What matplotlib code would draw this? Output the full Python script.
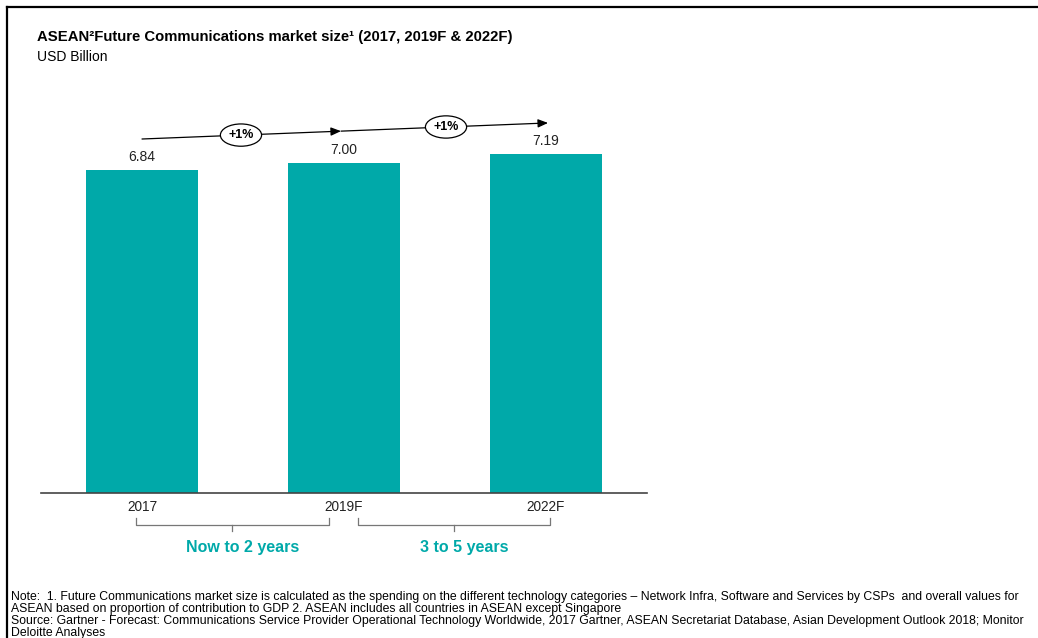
import matplotlib
matplotlib.use("Agg")
import matplotlib.pyplot as plt
from matplotlib import font_manager
from matplotlib.lines import Line2D

# market size, USD billion
years = ["2017", "2019F", "2022F"]
market_size = [6.84, 7.00, 7.19]
growth_labels = ["+1%", "+1%"]
horizon_labels = ["Now to 2 years", "3 to 5 years"]

title = "ASEAN\u00b2Future Communications market size\u00b9 (2017, 2019F & 2022F)"
subtitle = "USD Billion"
notes = [
    "Note:  1. Future Communications market size is calculated as the spending on the different technology categories \u2013 "
    "Network Infra, Software and Services by CSPs  and overall values for",
    "ASEAN based on proportion of contribution to GDP 2. ASEAN includes all countries in ASEAN except Singapore",
    "Source: Gartner - Forecast: Communications Service Provider Operational Technology Worldwide, 2017 Gartner, "
    "ASEAN Secretariat Database, Asian Development Outlook 2018; Monitor",
    "Deloitte Analyses",
]

TEAL = "#00a9a9"
W, H = 1038, 638

installed = {f.name for f in font_manager.fontManager.ttflist}
narrow = "Liberation Sans Narrow" if "Liberation Sans Narrow" in installed else "Liberation Sans"
plt.rcParams["font.family"] = ["Liberation Sans", "DejaVu Sans"]

fig = plt.figure(figsize=(W / 100, H / 100), dpi=100)
fig.patch.set_facecolor("white")

# axes: baseline at y=493px, 47.2 px per billion
base_px, left_px, width_px, ymax = 493, 41, 606, 8.4
ax = fig.add_axes([left_px / W, (H - base_px) / H, width_px / W, ymax * 47.2 / H])
x = list(range(len(years)))
ax.bar(x, market_size, width=0.55, color=TEAL)
ax.set_xlim(-0.5, 2.5)
ax.set_ylim(0, ymax)
for s in ["top", "right", "left"]:
    ax.spines[s].set_visible(False)
ax.spines["bottom"].set_color("#444444")
ax.spines["bottom"].set_linewidth(1.2)
ax.set_yticks([])
ax.set_xticks(x)
ax.set_xticklabels(years, fontsize=9.8, color="#222222")
ax.tick_params(axis="x", length=0, pad=5)

for xi, v in zip(x, market_size):
    ax.text(xi, v + 0.12, f"{v:.2f}", ha="center", va="bottom", fontsize=10, color="#222222")

# growth arrow across the bars
y0, y1 = 7.5, 7.84
mid_x = 0.985
y_mid = y0 + (y1 - y0) * (mid_x / 2.01)
arrow = dict(arrowstyle="-|>,head_length=0.6,head_width=0.25", color="black", lw=0.9,
             shrinkA=0, shrinkB=0)
ax.annotate("", xy=(mid_x, y_mid), xytext=(0.0, y0), arrowprops=arrow, annotation_clip=False)
ax.annotate("", xy=(2.01, y1), xytext=(mid_x, y_mid), arrowprops=arrow, annotation_clip=False)
for gx, lbl in zip([0.49, 1.505], growth_labels):
    gy = y0 + (y1 - y0) * (gx / 2.01)
    ax.text(gx, gy, lbl, ha="center", va="center", fontsize=9, fontweight="bold",
            bbox=dict(boxstyle="ellipse,pad=0.15", fc="white", ec="black", lw=0.9))

# brackets under the axis
brackets = [(-0.03, 0.925), (1.07, 2.02)]
top, mid, tip = -0.53, -0.68, -0.81
for (a, b), lbl in zip(brackets, horizon_labels):
    c = (a + b) / 2
    ax.plot([a, a, b, b], [top, mid, mid, top], color="#777777", lw=0.9, clip_on=False)
    ax.plot([c, c], [mid, tip], color="#777777", lw=0.9, clip_on=False)
    ax.text(c + 0.05, -1.165, lbl, ha="center", va="center", fontsize=11.5, fontweight="bold",
            color=TEAL)

# header
fig.text(37 / W, 1 - 37 / H, title, fontsize=10.75, fontweight="bold", va="center")
fig.text(37 / W, 1 - 57 / H, subtitle, fontsize=10, va="center")

# footnotes
for i, line in enumerate(notes):
    fig.text(11 / W, 1 - (597 + 12 * i) / H, line, fontsize=8.85, family=narrow, va="center")

# frame
fig.add_artist(Line2D([7 / W, 1], [1 - 7 / H, 1 - 7 / H], color="black", lw=1.6))
fig.add_artist(Line2D([7 / W, 7 / W], [0, 1 - 7 / H], color="black", lw=1.6))

fig.savefig("out.png", dpi=100)
